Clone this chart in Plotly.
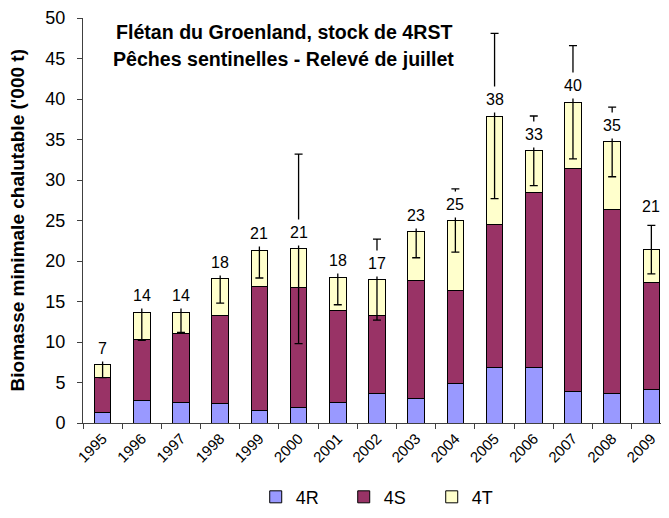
import plotly.graph_objects as go

years = ["1995", "1996", "1997", "1998", "1999", "2000", "2001", "2002",
         "2003", "2004", "2005", "2006", "2007", "2008", "2009"]
r4 = [1.3, 2.8, 2.5, 2.4, 1.5, 1.9, 2.5, 3.6, 3.0, 4.9, 6.9, 6.8, 3.9, 3.6, 4.1]
s4 = [4.3, 7.5, 8.5, 10.9, 15.3, 14.8, 11.4, 9.7, 14.6, 11.5, 17.6, 21.6, 27.5, 22.7, 13.2]
t4 = [1.6, 3.4, 2.7, 4.5, 4.5, 4.8, 4.1, 4.4, 6.0, 8.6, 13.4, 5.2, 8.2, 8.4, 4.1]
err = [1.6, 3.5, 2.5, 3.0, 3.4, 11.7, 3.4, 5.0, 3.2, 3.9, 10.2, 4.3, 7.0, 4.3, 3.0]
labels = ["7", "14", "14", "18", "21", "21", "18", "17", "23", "25", "38", "33", "40", "35", "21"]

totals = [a + b + c for a, b, c in zip(r4, s4, t4)]
FONT = "Liberation Sans, Arial"

fig = go.Figure()
line = dict(color="black", width=1)
fig.add_trace(go.Bar(x=years, y=r4, name="4R", marker=dict(color="#9999FF", line=line), width=0.42))
fig.add_trace(go.Bar(x=years, y=s4, name="4S", marker=dict(color="#993366", line=line), width=0.42))
fig.add_trace(go.Bar(x=years, y=t4, name="4T", marker=dict(color="#FFFFCC", line=line), width=0.42))
fig.add_trace(go.Scatter(x=years, y=totals, mode="markers", showlegend=False,
                         marker=dict(size=1, opacity=0), hoverinfo="skip",
                         error_y=dict(type="data", array=err, visible=True,
                                      color="black", thickness=1.3, width=4)))

# the last label sits above its error bar in the original
extra_lift = {14: 27}
for i, (tot, lab) in enumerate(zip(totals, labels)):
    fig.add_annotation(x=i, y=tot, text=lab, showarrow=False, yanchor="bottom",
                       yshift=3 + extra_lift.get(i, 0), bgcolor="white", borderpad=4,
                       font=dict(size=16, color="black", family=FONT))

fig.add_annotation(xref="paper", yref="paper", x=0.343, y=0.998, showarrow=False,
                   text="<b>Flétan du Groenland, stock de 4RST</b>",
                   font=dict(size=19.6, color="black", family=FONT))
fig.add_annotation(xref="paper", yref="paper", x=0.343, y=0.932, showarrow=False,
                   text="<b>Pêches sentinelles - Relevé de juillet</b>",
                   font=dict(size=19.6, color="black", family=FONT))
fig.add_annotation(xref="paper", yref="paper", x=-0.111, y=0.5, showarrow=False,
                   textangle=-90, xanchor="center", yanchor="middle",
                   text="<b>Biomasse minimale chalutable ('000 t)</b>",
                   font=dict(size=19, color="black", family=FONT))

# page body has an 8px margin, so the figure is offset by 8px right and down
fig.update_layout(
    width=661, height=510,
    barmode="stack",
    plot_bgcolor="white", paper_bgcolor="white",
    margin=dict(l=75, r=0, t=10, b=95),
    font=dict(family=FONT, color="black", size=16),
    showlegend=True,
    legend=dict(orientation="h", x=0.52, xanchor="center", y=-0.183, yanchor="middle",
                font=dict(size=18), entrywidth=43, traceorder="normal"),
)
fig.update_xaxes(type="category", range=[-0.5, 14.45], tickson="boundaries",
                 ticks="outside", ticklen=5, tickcolor="#404040", automargin=False,
                 showline=True, linecolor="#404040", linewidth=1,
                 tickangle=-45, tickfont=dict(size=15), showgrid=False)
fig.update_yaxes(range=[0, 50], dtick=5, ticks="outside", ticklen=5, tickcolor="#404040",
                 showline=True, linecolor="#404040", linewidth=1, showgrid=False,
                 zeroline=False, tickfont=dict(size=18), automargin=False,
                 ticklabelstandoff=8, ticklabeloverflow="allow")

fig.write_html("out.html")
